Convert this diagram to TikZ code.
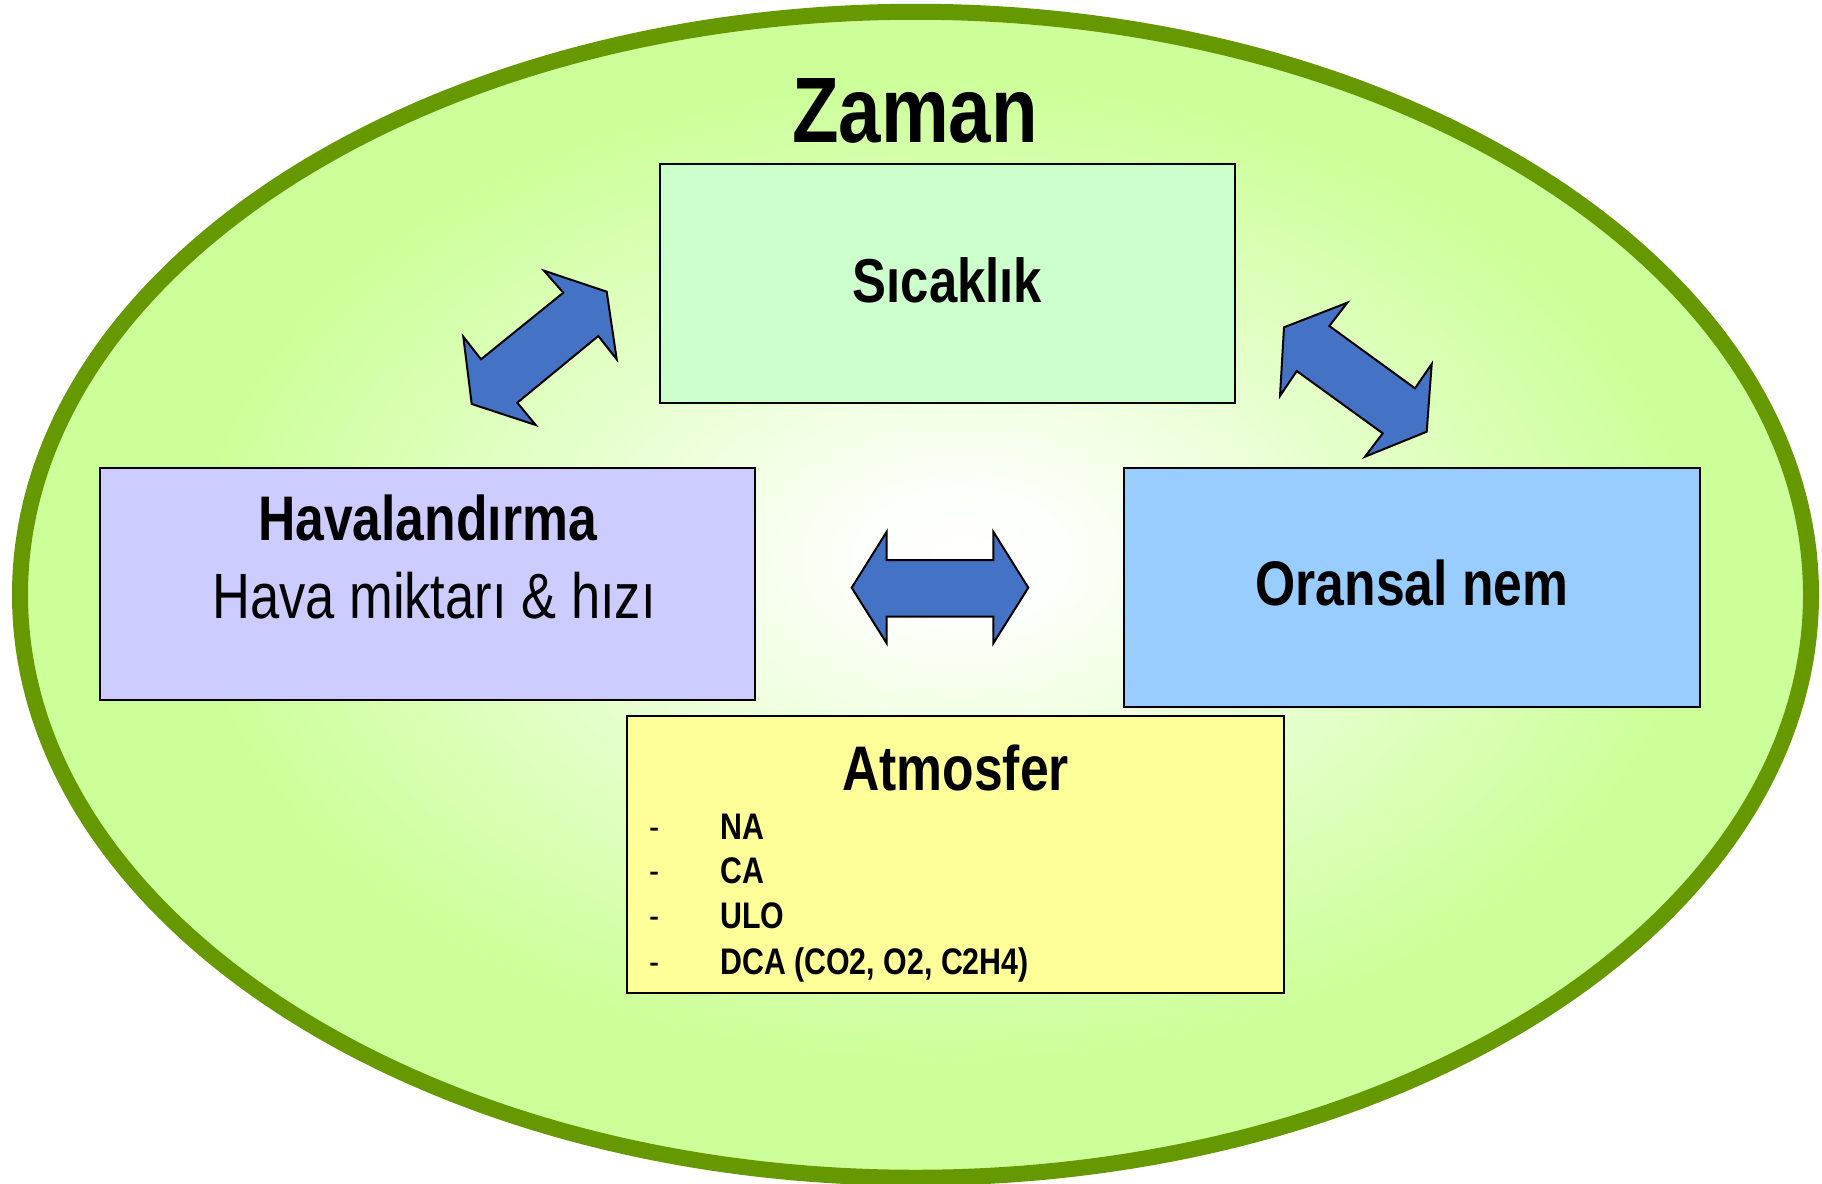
\documentclass[tikz,border=0pt]{standalone}
\usepackage{fontspec}
\setmainfont[FakeStretch=0.82]{Liberation Sans}
\usetikzlibrary{shapes.geometric}
\definecolor{lgreen}{HTML}{CCFF99}
\definecolor{dgreen}{HTML}{669900}
\definecolor{boxgreen}{HTML}{CCFFCC}
\definecolor{boxlav}{HTML}{CCCCFF}
\definecolor{boxblue}{HTML}{99CCFF}
\definecolor{boxyellow}{HTML}{FFFF99}
\definecolor{arrowblue}{HTML}{4472C4}
\pgfdeclareradialshading{glow}{\pgfpoint{1.4bp}{1.7bp}}{color(0bp)=(white); color(3bp)=(white!95!lgreen); color(21bp)=(lgreen); color(50bp)=(lgreen)}
\tikzset{
  panel/.style={rectangle, draw=black, line width=2pt, inner sep=0pt},
  blockarrow/.style={fill=arrowblue, draw=black, line width=2pt, line join=miter},
  bigtitle/.style={anchor=base, inner sep=0pt, font=\bfseries\fontsize{93}{93}\selectfont},
  headtxt/.style={anchor=base, inner sep=0pt, font=\bfseries\fontsize{63}{63}\selectfont},
  plaintxt/.style={anchor=base, inner sep=0pt, font=\fontsize{64}{64}\selectfont},
  itemtxt/.style={anchor=base west, inner sep=0pt, font=\bfseries\fontsize{37}{37}\selectfont},
  dashtxt/.style={anchor=base west, inner sep=0pt, font=\fontsize{37}{37}\selectfont}
}
\begin{document}
\begin{tikzpicture}[x=1pt, y=-1pt]
\useasboundingbox (0,0) rectangle (1822,1183);
% outer ellipse
\node[ellipse, shading=glow, draw=dgreen, line width=16pt, inner sep=0pt,
      minimum width=1791pt, minimum height=1166pt] (zaman) at (915.5,594.75) {};
\node[bigtitle] (zamantxt) at (915,142) {Zaman};
% boxes
\node[panel, fill=boxgreen, minimum width=575pt, minimum height=239pt] (sic) at (947.5,283.5) {};
\node[headtxt, font=\bfseries\fontsize{62}{62}\selectfont] (sictxt) at (947.5,302) {Sıcaklık};
\node[panel, fill=boxlav, minimum width=655pt, minimum height=232pt] (hav) at (427.5,584) {};
\node[headtxt] (havtxt) at (427.5,540) {Havalandırma};
\node[plaintxt] (havsub) at (434,618) {Hava miktarı \& hızı};
\node[panel, fill=boxblue, minimum width=576pt, minimum height=239pt] (nem) at (1412,587.5) {};
\node[headtxt] (nemtxt) at (1412,605) {Oransal nem};
\node[panel, fill=boxyellow, minimum width=657pt, minimum height=277pt] (atm) at (955.5,854.5) {};
\node[headtxt] (atmtxt) at (955.5,790) {Atmosfer};
\node[dashtxt] (d1) at (649,839) {-};
\node[dashtxt] (d2) at (649,883) {-};
\node[dashtxt] (d3) at (649,928) {-};
\node[dashtxt] (d4) at (649,974) {-};
\node[itemtxt] (i1) at (720,839) {NA};
\node[itemtxt] (i2) at (720,883) {CA};
\node[itemtxt] (i3) at (720,928) {ULO};
\node[itemtxt] (i4) at (720,974) {DCA (CO2, O2, C2H4)};
% block arrows
\draw[blockarrow] (544,270.7) -- (606.7,291.7) -- (616.7,359.3) -- (598.3,336) -- (517.3,402.7)
  -- (535.7,425) -- (471.7,404) -- (463.3,336.7) -- (481,359.3) -- (563.3,292.7) -- cycle;
\draw[blockarrow] (1347.3,302.7) -- (1329.3,326) -- (1415,388.3) -- (1431.7,364) -- (1426.7,431.7)
  -- (1365,456.7) -- (1382.7,433.3) -- (1296.7,371) -- (1280,396) -- (1284,327.3) -- cycle;
\draw[blockarrow] (851.7,587.7) -- (886.7,531.7) -- (886.7,560) -- (993.3,560) -- (993.3,531.7)
  -- (1028.3,587.7) -- (993.3,643.3) -- (993.3,616.7) -- (886.7,616.7) -- (886.7,643.3) -- cycle;
\end{tikzpicture}
\end{document}
